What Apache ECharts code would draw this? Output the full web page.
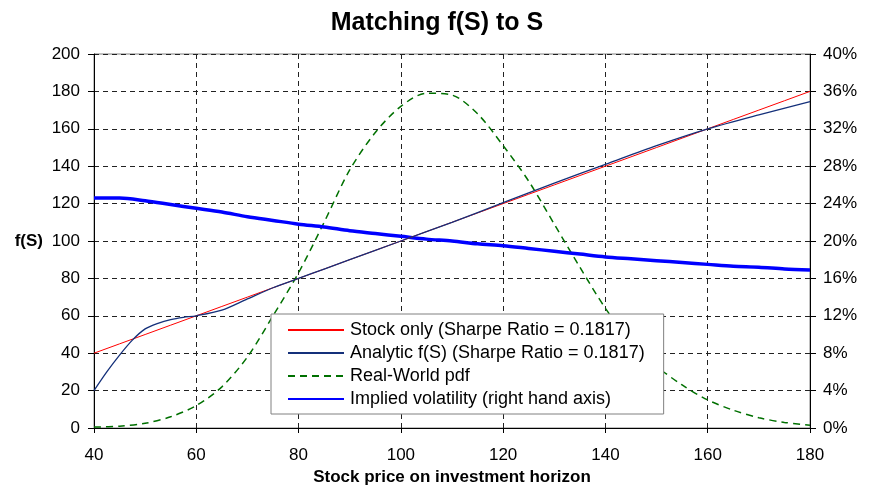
<!DOCTYPE html>
<html>
<head>
<meta charset="utf-8">
<script src="https://cdn.jsdelivr.net/npm/echarts@6/dist/echarts.min.js"></script>
<style>
  html, body { margin: 0; padding: 0; background: #fff; }
  #chart { width: 874px; height: 488px; }
</style>
</head>
<body>
<div id="chart"></div>
<script>
// stock price grid
const stockPrices = [40, 45, 50, 55, 60, 65, 70, 75, 80, 85, 90, 95, 100, 105, 110,
  115, 120, 125, 130, 135, 140, 145, 150, 155, 160, 165, 170, 175, 180]
// stock only: f(S) = S
const stockOnly = [40, 45, 50, 55, 60, 65, 70, 75, 80, 85, 90, 95, 100, 105, 110,
  115, 120, 125, 130, 135, 140, 145, 150, 155, 160, 165, 170, 175, 180]
// analytic f(S), finer at the low end
const analyticS = [40, 42.5, 45, 47.5, 50, 52.5, 55, 57.5, 60, 65, 70, 75, 80, 85, 90,
  100, 110, 120, 130, 140, 150, 160, 170, 180]
const analyticF = [20, 30, 39, 47, 53, 56, 58, 59.2, 60, 63, 69, 75, 80, 85, 90,
  100, 110, 120.5, 131, 141, 151, 160, 167.5, 174.5]
// real-world pdf, scaled to the left axis
const realWorldPdf = [0.5, 1, 2.5, 6, 12, 22, 38, 60, 83, 110, 138, 158, 172, 179, 178,
  168, 151, 132, 109, 86, 64, 46, 33, 23, 15, 9.5, 5.5, 3, 1.5]
// implied volatility in %, right axis
const impliedVol = [24.6, 24.6, 24.3, 23.9, 23.5, 23.1, 22.6, 22.2, 21.8, 21.5, 21.1, 20.8, 20.5, 20.2, 20.0,
  19.7, 19.5, 19.2, 18.9, 18.6, 18.3, 18.1, 17.9, 17.7, 17.5, 17.3, 17.2, 17.0, 16.9]

const pairs = (xs, ys) => xs.map((x, i) => [x, ys[i]])
const font = '"Liberation Sans", Arial, sans-serif'
const gridLine = { show: true, lineStyle: { color: '#222', type: [5, 4], width: 1 } }

const chart = echarts.init(document.getElementById('chart'))
chart.setOption({
  animation: false,
  backgroundColor: '#fff',
  textStyle: { fontFamily: font },
  title: {
    text: 'Matching f(S) to S',
    left: 'center',
    top: 6,
    textStyle: { fontFamily: font, fontSize: 25, fontWeight: 'bold', color: '#000' }
  },
  grid: {
    left: 94, right: 64, top: 54, bottom: 60,
    outerBoundsMode: 'none',
    show: true, borderColor: '#808080', borderWidth: 1
  },
  legend: {
    orient: 'vertical',
    left: 271,
    top: 314,
    z: 10,
    padding: [7, 19, 6, 16],
    itemWidth: 56,
    itemHeight: 14,
    itemGap: 5,
    backgroundColor: '#fff',
    borderColor: '#808080',
    borderWidth: 1,
    itemStyle: { opacity: 0 },
    textStyle: { fontFamily: font, fontSize: 18, lineHeight: 18, color: '#000', padding: [0, 0, 0, 1] },
    data: [
      'Stock only (Sharpe Ratio = 0.1817)',
      'Analytic f(S) (Sharpe Ratio = 0.1817)',
      'Real-World pdf',
      'Implied volatility (right hand axis)'
    ]
  },
  xAxis: {
    type: 'value',
    min: 40,
    max: 180,
    interval: 20,
    name: 'Stock price on investment horizon',
    nameLocation: 'middle',
    nameGap: 41,
    nameTextStyle: { fontFamily: font, fontSize: 17, fontWeight: 'bold', color: '#000' },
    axisLine: { onZero: false, lineStyle: { color: '#000' } },
    axisTick: { show: true, inside: false, length: 5, lineStyle: { color: '#000' } },
    axisLabel: { fontFamily: font, fontSize: 17, color: '#000', margin: 19 },
    splitLine: gridLine
  },
  yAxis: [
    {
      type: 'value',
      min: 0,
      max: 200,
      interval: 20,
      name: 'f(S)',
      nameLocation: 'middle',
      nameRotate: 0,
      nameGap: 51,
      nameTextStyle: { fontFamily: font, fontSize: 17, fontWeight: 'bold', color: '#000' },
      axisLine: { show: true, lineStyle: { color: '#000' } },
      axisTick: { show: true, length: 6, lineStyle: { color: '#000' } },
      axisLabel: { fontFamily: font, fontSize: 17, color: '#000', margin: 14 },
      splitLine: gridLine
    },
    {
      type: 'value',
      min: 0,
      max: 40,
      interval: 4,
      position: 'right',
      axisLine: { show: true, lineStyle: { color: '#000' } },
      axisTick: { show: true, length: 6, lineStyle: { color: '#000' } },
      axisLabel: { fontFamily: font, fontSize: 17, color: '#000', margin: 13, formatter: '{value}%' },
      splitLine: { show: false }
    }
  ],
  series: [
    {
      name: 'Stock only (Sharpe Ratio = 0.1817)',
      type: 'line',
      symbol: 'none',
      z: 3,
      lineStyle: { color: '#ff0000', width: 1 },
      itemStyle: { color: '#ff0000' },
      data: pairs(stockPrices, stockOnly)
    },
    {
      name: 'Analytic f(S) (Sharpe Ratio = 0.1817)',
      type: 'line',
      symbol: 'none',
      smooth: 0.3,
      z: 4,
      lineStyle: { color: '#14307a', width: 1.3 },
      itemStyle: { color: '#14307a' },
      data: pairs(analyticS, analyticF)
    },
    {
      name: 'Real-World pdf',
      type: 'line',
      symbol: 'none',
      smooth: 0.3,
      z: 2,
      lineStyle: { color: '#007000', width: 1.5, type: [7, 5] },
      itemStyle: { color: '#007000' },
      data: pairs(stockPrices, realWorldPdf)
    },
    {
      name: 'Implied volatility (right hand axis)',
      type: 'line',
      yAxisIndex: 1,
      symbol: 'none',
      smooth: 0.3,
      z: 2,
      lineStyle: { color: '#0000ff', width: 3.5 },
      itemStyle: { color: '#0000ff' },
      data: pairs(stockPrices, impliedVol)
    }
  ]
})
</script>
</body>
</html>
